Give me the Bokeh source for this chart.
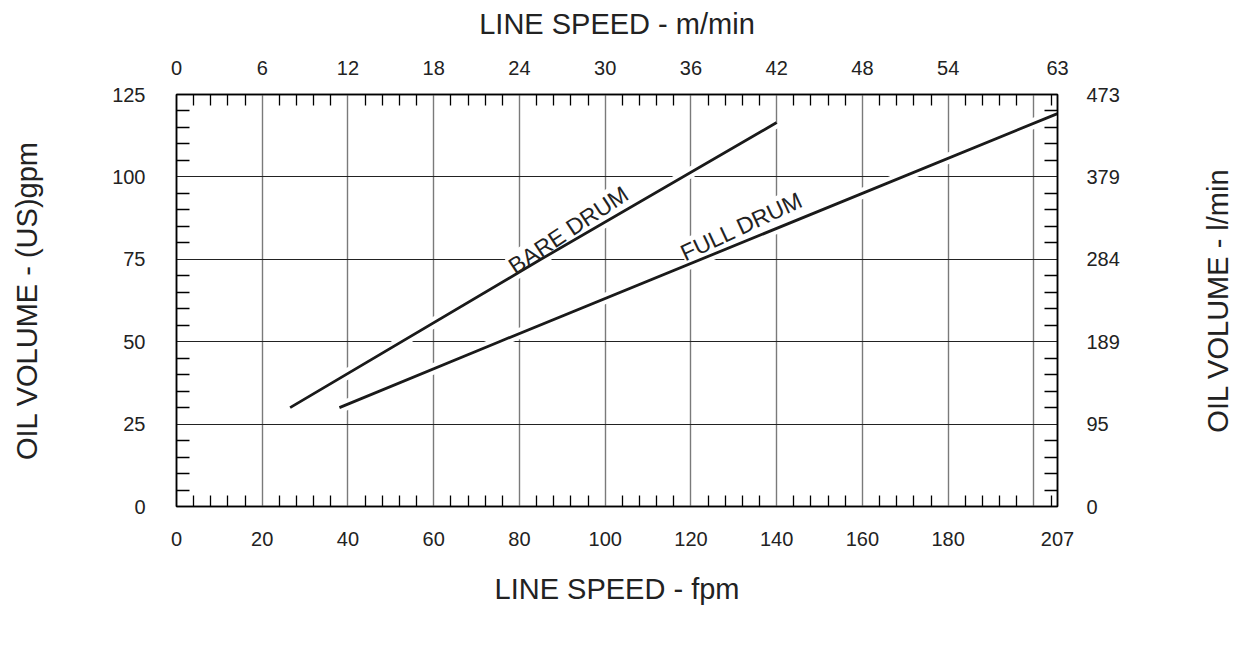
import numpy as np
from bokeh.plotting import figure
from bokeh.layouts import row
from bokeh.models import LinearAxis, FixedTicker, Range1d, Label
from bokeh.embed import file_html
from bokeh.resources import INLINE

# ---- data -------------------------------------------------------------
# x scale in fpm; the last (short) interval ends at the frame and is labelled 207 fpm / 63 m/min
x_end = 205.5
fpm_ticks = [0, 20, 40, 60, 80, 100, 120, 140, 160, 180, x_end]
fpm_labels = ["0", "20", "40", "60", "80", "100", "120", "140", "160", "180", "207"]
mmin_labels = ["0", "6", "12", "18", "24", "30", "36", "42", "48", "54", "63"]
x_grid = [20, 40, 60, 80, 100, 120, 140, 160, 180, 200]

gpm_ticks = [0, 25, 50, 75, 100, 125]
gpm_labels = ["0", "25", "50", "75", "100", "125"]
lmin_labels = ["0", "95", "189", "284", "379", "473"]

bare_fpm = [26.5, 85.0, 140.0]
bare_gpm = [30.0, 75.0, 116.5]
full_fpm = [38.0, 75.3, 205.5]
full_gpm = [30.0, 50.0, 119.2]

curve_labels = ["BARE DRUM", "FULL DRUM"]
label_fpm = [91.4, 131.8]
label_gpm = [83.9, 85.0]
label_angle = [33.7, 25.0]

FONT = "Liberation Sans"
INK = "#222222"

p = figure(width=1174, height=669, x_range=Range1d(0, x_end), y_range=Range1d(0, 125),
           output_backend="svg", toolbar_location=None,
           min_border_left=176, min_border_right=117, min_border_top=94, min_border_bottom=103)
p.background_fill_color = "white"
p.border_fill_color = "white"
p.outline_line_color = "black"
p.outline_line_width = 1.5

x_minor = [float(v) for v in np.arange(4, x_end, 4) if v % 20 != 0]
y_minor = [float(v) for v in np.arange(5, 125, 5) if v % 25 != 0]

def style(ax, labels, ticks, minor, tick_len):
    ax.ticker = FixedTicker(ticks=ticks, minor_ticks=minor)
    ax.major_label_overrides = {t: l for t, l in zip(ticks, labels)}
    ax.major_tick_in = 0
    ax.major_tick_out = 0
    ax.minor_tick_in = tick_len
    ax.minor_tick_out = 0
    ax.minor_tick_line_color = "black"
    ax.minor_tick_line_width = 1.3
    ax.axis_line_color = "black"
    ax.axis_line_width = 1.5
    ax.major_label_text_font = FONT
    ax.major_label_text_font_size = "20px"
    ax.major_label_text_color = INK
    ax.axis_label_text_font = FONT
    ax.axis_label_text_font_size = "29px"
    ax.axis_label_text_font_style = "normal"
    ax.axis_label_text_color = INK

bottom = p.xaxis[0]
style(bottom, fpm_labels, fpm_ticks, x_minor, 11)
bottom.axis_label = "LINE SPEED - fpm"
bottom.major_label_standoff = 25
bottom.axis_label_standoff = 24

left = p.yaxis[0]
style(left, gpm_labels, gpm_ticks, y_minor, 13)
left.axis_label = "OIL VOLUME - (US)gpm"
left.major_label_standoff = 31
left.axis_label_standoff = 66

top = LinearAxis()
style(top, mmin_labels, fpm_ticks, x_minor, 11)
top.axis_label = "LINE SPEED - m/min"
top.major_label_standoff = 20
top.axis_label_standoff = 18
p.add_layout(top, "above")

right = LinearAxis()
style(right, lmin_labels, gpm_ticks, y_minor, 13)
right.major_label_standoff = 29
p.add_layout(right, "right")

p.xgrid.ticker = FixedTicker(ticks=x_grid)
p.xgrid.grid_line_color = "#7a7a7a"
p.xgrid.grid_line_width = 1.4
p.ygrid.ticker = FixedTicker(ticks=gpm_ticks[1:-1])
p.ygrid.grid_line_color = "#222222"
p.ygrid.grid_line_width = 1.1

# white halos that break the grid where the curves cross it
for xs, ys in ((bare_fpm, bare_gpm), (full_fpm, full_gpm)):
    p.line(xs, ys, line_color="white", line_width=11)
for xs, ys in ((bare_fpm, bare_gpm), (full_fpm, full_gpm)):
    p.line(xs, ys, line_color="#1a1a1a", line_width=2.8)

for txt, lx, ly, ang in zip(curve_labels, label_fpm, label_gpm, label_angle):
    # white box under the text (breaks the grid), then the text itself above everything
    p.add_layout(Label(x=lx, y=ly, text=txt, angle=ang, angle_units="deg",
                       text_align="center", text_baseline="middle",
                       text_font=FONT, text_font_size="23px", text_color="white",
                       background_fill_color="white", level="underlay"))
    p.add_layout(Label(x=lx, y=ly, text=txt, angle=ang, angle_units="deg",
                       text_align="center", text_baseline="middle",
                       text_font=FONT, text_font_size="23px", text_color=INK))

# narrow companion figure that only carries the right-hand title (reads bottom-to-top)
p2 = figure(width=60, height=669, x_range=Range1d(0, 1), y_range=Range1d(0, 1),
            output_backend="svg", toolbar_location=None, x_axis_location=None,
            min_border_left=59, min_border_right=0, min_border_top=94, min_border_bottom=163)
p2.outline_line_color = None
p2.background_fill_color = "white"
p2.border_fill_color = "white"
p2.grid.visible = False
ax2 = p2.yaxis[0]
ax2.ticker = FixedTicker(ticks=[])
ax2.axis_line_color = None
ax2.major_tick_in = 0
ax2.major_tick_out = 0
ax2.minor_tick_in = 0
ax2.minor_tick_out = 0
ax2.major_label_standoff = 0
ax2.axis_label_standoff = 0
ax2.axis_label = "OIL VOLUME - l/min"
ax2.axis_label_text_font = FONT
ax2.axis_label_text_font_size = "29px"
ax2.axis_label_text_font_style = "normal"
ax2.axis_label_text_color = INK

layout = row(p, p2)
open("out.html", "w").write(file_html(layout, INLINE))
